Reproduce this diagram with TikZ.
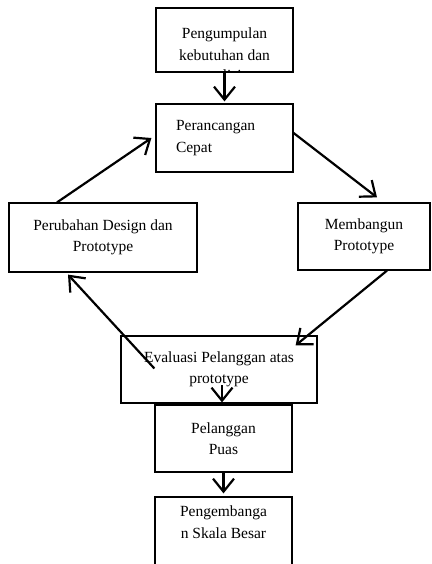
\documentclass[tikz,border=0pt]{standalone}
\usepackage{fontspec}
\setmainfont{Liberation Serif}
\usepackage{tikz}
\usetikzlibrary{positioning, arrows.meta, calc}

\begin{document}
\begin{tikzpicture}[
    x=1pt, y=-1pt,
    box/.style={draw, line width=1.2pt, inner sep=0pt, minimum width=137pt, minimum height=67pt, align=center, font=\fontsize{15.5}{21.5}\selectfont},
    leftbox/.style={box, align=left, text width=97pt, inner xsep=20pt},
    txt/.style={inner sep=0pt, align=center, font=\fontsize{15.5}{21.5}\selectfont},
    arrow/.style={-{Straight Barb[length=13pt, width=21pt]}, line width=2.2pt}
]
\path[use as bounding box, clip] (0,0) rectangle (431,564);

% Top of the cycle
\node[box, minimum height=64pt] (gather) at (224.5,40) {};
\node[txt] (gathertext) at (224.5,44) {Pengumpulan\\kebutuhan dan};
\begin{scope}
  \clip (gather.north west) rectangle (gather.south east);
  \node[txt, anchor=base] (gathermore) at (224.5,80.5) {analisis};
\end{scope}
\node[leftbox, minimum height=68pt] (design) at (224.5,138) {Perancangan\\Cepat};

\draw[arrow, shorten >=2pt] (gather) -- (design);

% Sides
\node[box, minimum width=188pt, minimum height=69pt] (change) at (103,237.5) {Perubahan Design dan\\Prototype};
\node[box, minimum width=132pt] (build) at (364,236.5) {Membangun\\Prototype};

% Bottom of the cycle
\node[box, minimum width=196pt] (evaluate) at (219,369.5) {Evaluasi Pelanggan atas\\prototype};

\draw[arrow] ([yshift=5pt]design.east) -- ([xshift=13pt,yshift=5pt]build.north);
\draw[arrow] ([xshift=23pt]build.south) -- ([xshift=-22pt,yshift=-10pt]evaluate.north east);
\draw[arrow] ([xshift=34pt,yshift=1pt]evaluate.west) -- ([xshift=-35pt,yshift=-2pt]change.south);
\draw[arrow] ([xshift=-46pt]change.north) -- ([xshift=-4pt]design.west);

% Way out
\node[box] (satisfied) at (223.5,438.5) {Pelanggan\\Puas};
\node[box, minimum height=80pt] (grow) at (223.5,537) {};
\node[txt] (growtext) at (223.5,522) {Pengembanga\\n Skala Besar};

\draw[arrow] ([xshift=-1.5pt,yshift=19pt]satisfied.north) -- ([xshift=-1.5pt,yshift=2pt]satisfied.north);
\draw[arrow, shorten >=3pt] (satisfied) -- (grow);

\end{tikzpicture}
\end{document}
